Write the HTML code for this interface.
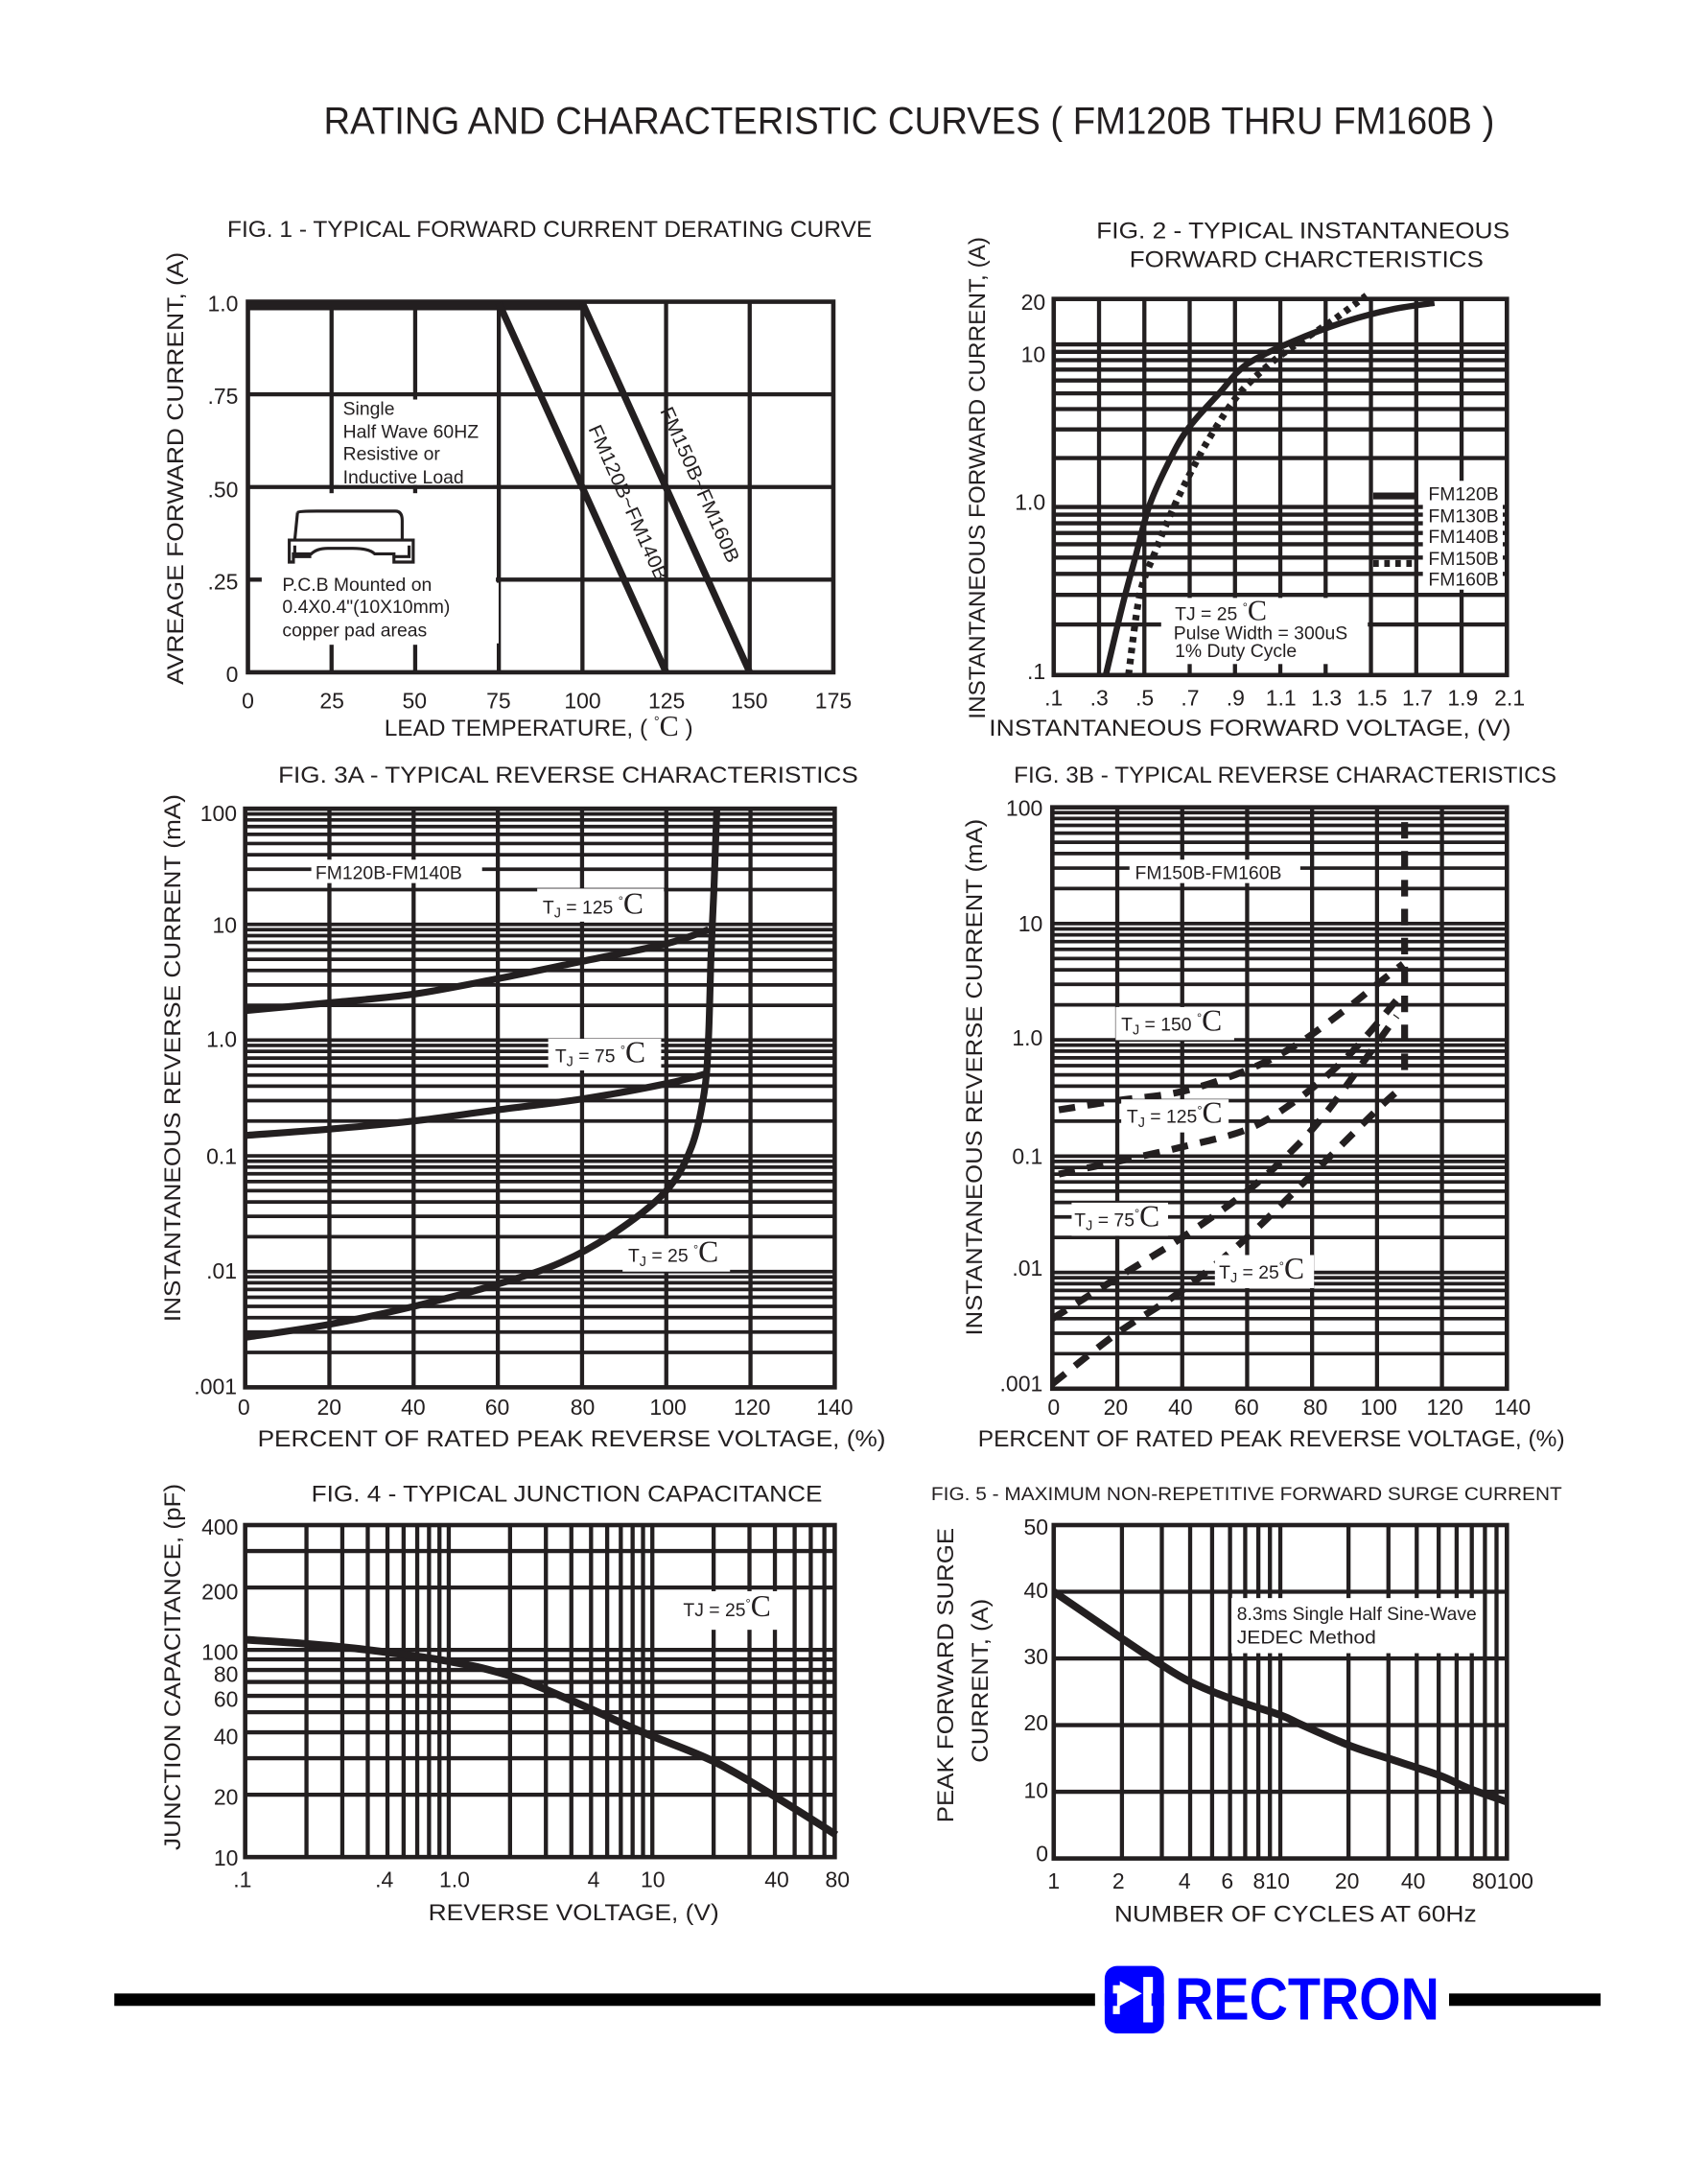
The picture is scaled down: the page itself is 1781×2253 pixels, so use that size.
<!DOCTYPE html>
<html><head><meta charset="utf-8"><style>
html,body{margin:0;padding:0;background:#fff}
svg{display:block}
text{font-family:"Liberation Sans",Arial,sans-serif;fill:#231f20}
.t{font-size:16px}
.lab{font-size:17px}
.s{font-family:"Liberation Serif",serif}
</style></head><body>
<svg id="s" xmlns="http://www.w3.org/2000/svg" width="1781" height="2253" viewBox="0 0 1240 1568.6" preserveAspectRatio="none">
<rect width="1240" height="1569" fill="#fff"/>
<g id="grid" stroke="#231f20" fill="none"></g>
<g id="curves" fill="none" stroke="#231f20"></g>
<g fill="#fff" stroke="none">
 <rect x="246" y="290" width="112" height="62"/>
 <rect x="190" y="358" width="170" height="110"/>
 <rect x="190" y="423" width="172" height="44"/>
 <rect x="1033" y="349" width="58" height="79"/>
 <rect x="843" y="434" width="150" height="48"/>
 <rect x="226" y="624" width="124" height="17"/>
 <rect x="390" y="645" width="92" height="24"/>
 <rect x="398" y="754" width="82" height="23"/>
 <rect x="452" y="899" width="78" height="24"/>
 <rect x="820" y="624" width="124" height="17"/>
 <rect x="810" y="731" width="86" height="24"/>
 <rect x="814" y="798" width="78" height="24"/>
 <rect x="778" y="873" width="70" height="24"/>
 <rect x="882" y="911" width="72" height="24"/>
 <rect x="494" y="1155" width="74" height="28"/>
 <rect x="894" y="1160" width="180" height="40"/>
</g>
<g id="fg" fill="none" stroke="#231f20"></g>

<text x="235" y="97" font-size="28" textLength="850" lengthAdjust="spacingAndGlyphs">RATING AND CHARACTERISTIC CURVES ( FM120B THRU FM160B )</text>

<text x="165" y="172" font-size="17" textLength="468" lengthAdjust="spacingAndGlyphs">FIG. 1 - TYPICAL FORWARD CURRENT DERATING CURVE</text>
<text transform="translate(133,340) rotate(-90)" text-anchor="middle" class="lab" textLength="314" lengthAdjust="spacingAndGlyphs">AVREAGE FORWARD CURRENT, (A)</text>
<g class="t" text-anchor="end">
 <text x="173" y="226">1.0</text><text x="173" y="293">.75</text><text x="173" y="361">.50</text><text x="173" y="428">.25</text><text x="173" y="495">0</text>
</g>
<g class="t" text-anchor="middle">
 <text x="180" y="514">0</text><text x="241" y="514">25</text><text x="301" y="514">50</text><text x="362" y="514">75</text><text x="423" y="514">100</text><text x="484" y="514">125</text><text x="544" y="514">150</text><text x="605" y="514">175</text>
</g>
<text x="279" y="534" class="lab">LEAD TEMPERATURE, ( <tspan font-size="10" dy="-7">°</tspan><tspan class="s" font-size="21" dy="7">C</tspan> )</text>
<g font-size="13.5">
 <text x="249" y="301">Single</text>
 <text x="249" y="318">Half Wave 60HZ</text>
 <text x="249" y="334">Resistive or</text>
 <text x="249" y="351">Inductive Load</text>
 <text x="205" y="429">P.C.B Mounted on</text>
 <text x="205" y="445">0.4X0.4"(10X10mm)</text>
 <text x="205" y="462">copper pad areas</text>
</g>
<g fill="none" stroke="#231f20" stroke-width="2.2">
 <path d="M216 372 Q217 371 230 371 L287 371 Q292 371 292 378 L292 392"/>
 <path d="M216 372 L214 392"/>
 <path d="M210 392 L300 392 L300 408 L286 408 L286 402 L272 402 Q268 398 256 398 L238 398 Q230 398 226 402 L213 402 L213 408 L210 408 Z"/>
 <path d="M214 396 L214 404 L226 404"/>
 <path d="M297 396 L297 404 L285 404"/>
</g>
<text transform="translate(427,311) rotate(66)" font-size="14" textLength="122" lengthAdjust="spacingAndGlyphs">FM120B~FM140B</text>
<text transform="translate(479,298) rotate(66)" font-size="14" textLength="122" lengthAdjust="spacingAndGlyphs">FM150B~FM160B</text>

<text x="796" y="173" font-size="17" textLength="300" lengthAdjust="spacingAndGlyphs">FIG. 2 - TYPICAL INSTANTANEOUS</text>
<text x="820" y="194" font-size="17" textLength="257" lengthAdjust="spacingAndGlyphs">FORWARD CHARCTERISTICS</text>
<text transform="translate(715,347) rotate(-90)" text-anchor="middle" class="lab" textLength="350" lengthAdjust="spacingAndGlyphs">INSTANTANEOUS FORWARD CURRENT, (A)</text>
<g class="t" text-anchor="end">
 <text x="759" y="225">20</text><text x="759" y="263">10</text><text x="759" y="370">1.0</text><text x="759" y="493">.1</text>
</g>
<g class="t" text-anchor="middle">
 <text x="765" y="512">.1</text><text x="798" y="512">.3</text><text x="831" y="512">.5</text><text x="864" y="512">.7</text><text x="897" y="512">.9</text><text x="930" y="512">1.1</text><text x="963" y="512">1.3</text><text x="996" y="512">1.5</text><text x="1029" y="512">1.7</text><text x="1062" y="512">1.9</text><text x="1096" y="512">2.1</text>
</g>
<text x="718" y="534" class="lab" textLength="379" lengthAdjust="spacingAndGlyphs">INSTANTANEOUS FORWARD VOLTAGE, (V)</text>
<g font-size="13.5">
 <text x="1037" y="363">FM120B</text><text x="1037" y="379">FM130B</text><text x="1037" y="394">FM140B</text><text x="1037" y="410">FM150B</text><text x="1037" y="425">FM160B</text>
 <text x="853" y="450">TJ = 25 <tspan font-size="9" dy="-6">°</tspan><tspan class="s" font-size="21" dy="6">C</tspan></text>
 <text x="852" y="464">Pulse Width = 300uS</text>
 <text x="853" y="477">1% Duty Cycle</text>
</g>

<text x="202" y="568" class="lab" textLength="421" lengthAdjust="spacingAndGlyphs">FIG. 3A - TYPICAL REVERSE CHARACTERISTICS</text>
<text transform="translate(131,768) rotate(-90)" text-anchor="middle" class="lab" textLength="383" lengthAdjust="spacingAndGlyphs">INSTANTANEOUS REVERSE CURRENT (mA)</text>
<g class="t" text-anchor="end">
 <text x="172" y="596">100</text><text x="172" y="677">10</text><text x="172" y="760">1.0</text><text x="172" y="845">0.1</text><text x="172" y="928">.01</text><text x="172" y="1012">.001</text>
</g>
<g class="t" text-anchor="middle">
 <text x="177" y="1027">0</text><text x="239" y="1027">20</text><text x="300" y="1027">40</text><text x="361" y="1027">60</text><text x="423" y="1027">80</text><text x="485" y="1027">100</text><text x="546" y="1027">120</text><text x="606" y="1027">140</text>
</g>
<text x="187" y="1050" class="lab" textLength="456" lengthAdjust="spacingAndGlyphs">PERCENT OF RATED PEAK REVERSE VOLTAGE, (%)</text>
<g font-size="13.5">
 <text x="229" y="638">FM120B-FM140B</text>
 <text x="394" y="663">T<tspan font-size="10" dy="3">J</tspan><tspan dy="-3"> = 125 </tspan><tspan font-size="9" dy="-6">°</tspan><tspan class="s" font-size="22" dy="6">C</tspan></text>
 <text x="403" y="771">T<tspan font-size="10" dy="3">J</tspan><tspan dy="-3"> = 75 </tspan><tspan font-size="9" dy="-6">°</tspan><tspan class="s" font-size="22" dy="6">C</tspan></text>
 <text x="456" y="916">T<tspan font-size="10" dy="3">J</tspan><tspan dy="-3"> = 25 </tspan><tspan font-size="9" dy="-6">°</tspan><tspan class="s" font-size="22" dy="6">C</tspan></text>
</g>

<text x="736" y="568" class="lab" textLength="394" lengthAdjust="spacingAndGlyphs">FIG. 3B - TYPICAL REVERSE CHARACTERISTICS</text>
<text transform="translate(713,782) rotate(-90)" text-anchor="middle" class="lab" textLength="375" lengthAdjust="spacingAndGlyphs">INSTANTANEOUS REVERSE CURRENT (mA)</text>
<g class="t" text-anchor="end">
 <text x="757" y="592">100</text><text x="757" y="676">10</text><text x="757" y="759">1.0</text><text x="757" y="845">0.1</text><text x="757" y="926">.01</text><text x="757" y="1010">.001</text>
</g>
<g class="t" text-anchor="middle">
 <text x="765" y="1027">0</text><text x="810" y="1027">20</text><text x="857" y="1027">40</text><text x="905" y="1027">60</text><text x="955" y="1027">80</text><text x="1001" y="1027">100</text><text x="1049" y="1027">120</text><text x="1098" y="1027">140</text>
</g>
<text x="710" y="1050" class="lab" textLength="426" lengthAdjust="spacingAndGlyphs">PERCENT OF RATED PEAK REVERSE VOLTAGE, (%)</text>
<g font-size="13.5">
 <text x="824" y="638">FM150B-FM160B</text>
 <text x="814" y="748">T<tspan font-size="10" dy="3">J</tspan><tspan dy="-3"> = 150 </tspan><tspan font-size="9" dy="-6">°</tspan><tspan class="s" font-size="22" dy="6">C</tspan></text>
 <text x="818" y="815">T<tspan font-size="10" dy="3">J</tspan><tspan dy="-3"> = 125</tspan><tspan font-size="9" dy="-6">°</tspan><tspan class="s" font-size="22" dy="6">C</tspan></text>
 <text x="780" y="890">T<tspan font-size="10" dy="3">J</tspan><tspan dy="-3"> = 75</tspan><tspan font-size="9" dy="-6">°</tspan><tspan class="s" font-size="22" dy="6">C</tspan></text>
 <text x="885" y="928">T<tspan font-size="10" dy="3">J</tspan><tspan dy="-3"> = 25</tspan><tspan font-size="9" dy="-6">°</tspan><tspan class="s" font-size="22" dy="6">C</tspan></text>
</g>

<text x="226" y="1090" font-size="17" textLength="371" lengthAdjust="spacingAndGlyphs">FIG. 4 - TYPICAL JUNCTION CAPACITANCE</text>
<text transform="translate(131,1210) rotate(-90)" text-anchor="middle" class="lab" textLength="266" lengthAdjust="spacingAndGlyphs">JUNCTION CAPACITANCE, (pF)</text>
<g class="t" text-anchor="end">
 <text x="173" y="1114">400</text><text x="173" y="1161">200</text><text x="173" y="1205">100</text><text x="173" y="1221">80</text><text x="173" y="1239">60</text><text x="173" y="1266">40</text><text x="173" y="1310">20</text><text x="173" y="1354">10</text>
</g>
<g class="t" text-anchor="middle">
 <text x="176" y="1370">.1</text><text x="279" y="1370">.4</text><text x="330" y="1370">1.0</text><text x="431" y="1370">4</text><text x="474" y="1370">10</text><text x="564" y="1370">40</text><text x="608" y="1370">80</text>
</g>
<text x="311" y="1394" class="lab" textLength="211" lengthAdjust="spacingAndGlyphs">REVERSE VOLTAGE, (V)</text>
<text x="496" y="1173" font-size="13.5">TJ = 25<tspan font-size="9" dy="-6">°</tspan><tspan class="s" font-size="22" dy="6">C</tspan></text>

<text x="676" y="1089" font-size="13.5" textLength="458" lengthAdjust="spacingAndGlyphs">FIG. 5 - MAXIMUM NON-REPETITIVE FORWARD SURGE CURRENT</text>
<text transform="translate(692,1216) rotate(-90)" text-anchor="middle" class="lab" textLength="214" lengthAdjust="spacingAndGlyphs">PEAK FORWARD SURGE</text>
<text transform="translate(717,1220) rotate(-90)" text-anchor="middle" class="lab" textLength="119" lengthAdjust="spacingAndGlyphs">CURRENT, (A)</text>
<g class="t" text-anchor="end">
 <text x="761" y="1114">50</text><text x="761" y="1160">40</text><text x="761" y="1208">30</text><text x="761" y="1256">20</text><text x="761" y="1305">10</text><text x="761" y="1351">0</text>
</g>
<g class="t" text-anchor="middle">
 <text x="765" y="1371">1</text><text x="812" y="1371">2</text><text x="860" y="1371">4</text><text x="891" y="1371">6</text><text x="923" y="1371">810</text><text x="978" y="1371">20</text><text x="1026" y="1371">40</text><text x="1091" y="1371">80100</text>
</g>
<text x="809" y="1395" class="lab" textLength="263" lengthAdjust="spacingAndGlyphs">NUMBER OF CYCLES AT 60Hz</text>
<g font-size="13.5">
 <text x="898" y="1176" textLength="174" lengthAdjust="spacingAndGlyphs">8.3ms Single Half Sine-Wave</text>
 <text x="898" y="1193" textLength="101" lengthAdjust="spacingAndGlyphs">JEDEC Method</text>
</g>

<rect x="83" y="1447" width="712" height="9" fill="#000"/>
<rect x="1052" y="1447" width="110" height="9" fill="#000"/>
<rect x="802" y="1427" width="43" height="49" rx="9" fill="#0000ff"/>
<path d="M808 1441 h5 v21 h-5 z M813 1438 L829 1447 L813 1456 Z" fill="#fff"/>
<rect x="830" y="1435" width="7" height="33" fill="#fff"/>
<rect x="802" y="1447" width="9" height="9" fill="#0000ff"/>
<rect x="836" y="1447" width="9" height="9" fill="#0000ff"/>
<text x="853" y="1466" font-size="43" font-weight="bold" style="fill:#0000ff" textLength="192" lengthAdjust="spacingAndGlyphs">RECTRON</text>
</svg>
<script>
(function(){
var NS="http://www.w3.org/2000/svg";
var G=document.getElementById('grid'),C=document.getElementById('curves'),F=document.getElementById('fg');
function L(g,x1,y1,x2,y2,w){var e=document.createElementNS(NS,'line');e.setAttribute('x1',x1);e.setAttribute('y1',y1);e.setAttribute('x2',x2);e.setAttribute('y2',y2);e.setAttribute('stroke-width',w);g.appendChild(e);return e;}
function R(g,x,y,w,h,sw){var e=document.createElementNS(NS,'rect');e.setAttribute('x',x);e.setAttribute('y',y);e.setAttribute('width',w);e.setAttribute('height',h);e.setAttribute('stroke-width',sw);g.appendChild(e);return e;}
function P(g,pts,w,dash,cap){var d='';for(var i=0;i<pts.length;i++){var p0=pts[Math.max(0,i-2)],p1=pts[Math.max(0,i-1)],p2=pts[i],p3=pts[Math.min(pts.length-1,i+1)];
 if(i==0){d='M'+p2[0].toFixed(1)+' '+p2[1].toFixed(1);continue;}
 var c1=[p1[0]+(p2[0]-p0[0])/6,p1[1]+(p2[1]-p0[1])/6],c2=[p2[0]-(p3[0]-p1[0])/6,p2[1]-(p3[1]-p1[1])/6];
 d+=' C'+c1[0].toFixed(1)+' '+c1[1].toFixed(1)+' '+c2[0].toFixed(1)+' '+c2[1].toFixed(1)+' '+p2[0].toFixed(1)+' '+p2[1].toFixed(1);}
 var e=document.createElementNS(NS,'path');e.setAttribute('d',d);e.setAttribute('stroke-width',w);if(dash)e.setAttribute('stroke-dasharray',dash);e.setAttribute('stroke-linecap',cap||'butt');g.appendChild(e);return e;}
var lg=Math.log10;
var X1=function(t){return 180+t*425/175},Y1=function(a){return 488-a*269};
for(var t=25;t<175;t+=25)L(G,X1(t),219,X1(t),488,3);
[.25,.5,.75].forEach(function(a){L(G,180,Y1(a),605,Y1(a),3)});
R(F,180,219,425,269,3.2);
L(F,180,221.5,X1(100),221.5,7.5);
L(F,X1(75),220,X1(125),488,5);L(F,X1(100),220,X1(150),488,5);
var X2=function(v){return 765+(v-0.1)/2*329},Y2=function(i){return i<=1?490-lg(i/0.1)*122:368-lg(i)*118};
for(var v=0.3;v<2.05;v+=0.2)L(G,X2(v),217,X2(v),490,3);
[.2,.3,.4,.5,.6,.7,.8,.9,1,2,3,4,5,6,7,8,9,10].forEach(function(i){L(G,765,Y2(i),1094,Y2(i),3)});
R(F,765,217,329,273,3.2);
P(C,[[.33,.1],[.4,.25],[.46,.5],[.52,1],[.6,1.8],[.69,3],[.83,5],[.95,7.5],[1.16,10.5],[1.4,14],[1.6,16.5],[1.78,18]].map(function(p){return[X2(p[0]),Y2(p[1])]}),4.5);
P(C,[[.43,.1],[.48,.3],[.55,.55],[.63,1],[.72,1.8],[.81,3],[.92,5],[1.05,7.5],[1.17,10],[1.33,14],[1.48,20]].map(function(p){return[X2(p[0]),Y2(p[1])]}),5,'4 4');
L(F,997,360,1029,360,5);
L(F,997,409,1029,409,5).setAttribute('stroke-dasharray','4 4');
function fig3(x0,x1,y0,y1){var dec=(y1-y0)/5;var Y=function(v){return y1-(lg(v)+3)*dec},X=function(p){return x0+p/140*(x1-x0)};
 for(var p=20;p<140;p+=20)L(G,X(p),y0,X(p),y1,3);
 for(var e=-3;e<2;e++)for(var k=1;k<10;k++){var yy=Y(k*Math.pow(10,e));L(G,x0,yy,x1,yy,2.6);}
 R(F,x0,y0,x1-x0,y1-y0,3.2);return[X,Y];}
function m(f,pts){return pts.map(function(p){return[f[0](p[0]),f[1](p[1])]})}
var A=fig3(178,606,587,1007);
P(C,m(A,[[0,1.8],[20,2.1],[40,2.5],[60,3.4],[80,4.8],[100,6.8],[110,9]]),5);
P(C,m(A,[[0,.15],[20,.17],[40,.2],[60,.25],[80,.31],[100,.42],[110,.52]]),5);
P(C,m(A,[[0,.0027],[20,.0035],[40,.005],[60,.0078],[75,.012],[88,.022],[100,.05],[106,.12],[109,.35],[110,1],[110.6,5],[111.3,20],[112,100]]),5);
var B=fig3(764,1094,586,1008);
P(C,m(B,[[2,.25],[20,.3],[40,.36],[60,.55],[75,.9],[90,1.8],[100,3],[108,4.5]]),5,'12 9');
P(C,m(B,[[2,.07],[20,.09],[40,.12],[60,.17],[75,.3],[88,.6],[97,1.1],[106,2.2]]),5,'12 9');
P(C,m(B,[[0,.004],[20,.009],[40,.02],[60,.05],[75,.12],[85,.25],[95,.6],[106,1.6]]),5,'12 9');
P(C,m(B,[[0,.0011],[20,.003],[40,.007],[60,.02],[80,.07],[100,.25],[108,.4]]),5,'12 9');
L(C,B[0](108.5),B[1](.55),B[0](108.5),B[1](95),5).setAttribute('stroke-dasharray','12 9');
var X4=function(v){return 178+lg(v/0.1)*147.8},Y4=function(c){return 1348-lg(c/10)*150.4};
[.2,.3,.4,.5,.6,.7,.8,.9,1,2,3,4,5,6,7,8,9,10,20,30,40,50,60,70].forEach(function(v){L(G,X4(v),1107,X4(v),1348,3)});
[20,30,40,50,60,70,80,90,100,200,300].forEach(function(c){L(G,178,Y4(c),606,Y4(c),3)});
R(F,178,1107,428,241,3.2);
P(C,[[.1,112],[.2,107],[.4,100],[1,88],[2,75],[4,57],[9,40],[20,29],[40,19.6],[80,12.8]].map(function(p){return[X4(p[0]),Y4(p[1])]}),5.5);
var X5=function(n){return 765+lg(n)*164.5},Y5=function(a){return 1349-a*4.84};
[2,3,4,5,6,7,8,9,10,20,30,40,50,60,70,80,90].forEach(function(n){L(G,X5(n),1107,X5(n),1349,3)});
[10,20,30,40].forEach(function(a){L(G,765,Y5(a),1094,Y5(a),3)});
R(F,765,1107,329,242,3.2);
P(C,[[1,40],[2,33],[3,29],[4,26.5],[6,24],[10,21.5],[12.5,20],[20,17],[30,15],[50,12.5],[68,10.5],[100,8.5]].map(function(p){return[X5(p[0]),Y5(p[1])]}),5.5);
})();
</script>
</body></html>
